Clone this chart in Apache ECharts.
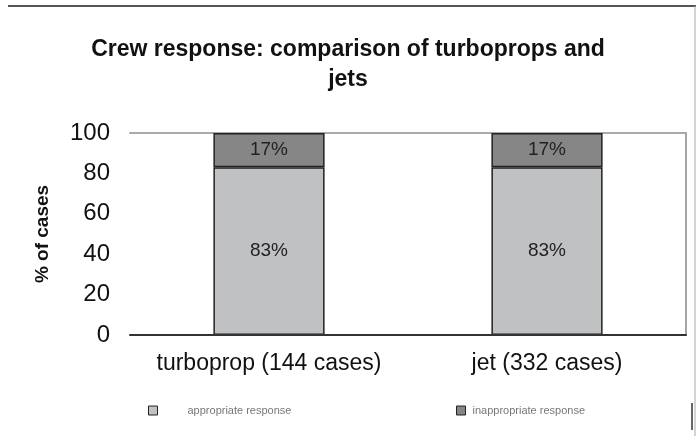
<!DOCTYPE html>
<html>
<head>
<meta charset="utf-8">
<script src="https://cdn.jsdelivr.net/npm/echarts@6/dist/echarts.min.js"></script>
<style>
  html, body { margin: 0; padding: 0; background: #fff; }
  #chart { width: 696px; height: 436px; }
</style>
</head>
<body>
<div id="chart"></div>
<script>
// Aircraft categories and share of cases (%) for each crew response type
var categories = ['turboprop (144 cases)', 'jet (332 cases)'];
var appropriate = [83, 83];
var inappropriate = [17, 17];
var seriesNames = ['appropriate response', 'inappropriate response'];
var yTicks = [0, 20, 40, 60, 80, 100];

var FONT = '"Liberation Sans", Arial, Helvetica, sans-serif';

var chart = echarts.init(document.getElementById('chart'), null, { renderer: 'canvas' });

function pctLabel(p) { return p.value + '%'; }

chart.setOption({
  animation: false,
  backgroundColor: '#ffffff',
  textStyle: { fontFamily: FONT },
  title: {
    text: 'Crew response: comparison of turboprops and\njets',
    left: 'center',
    top: 30,
    textStyle: { fontFamily: FONT, fontSize: 23, fontWeight: 'bold', color: '#111', lineHeight: 30 }
  },
  legend: [
    {
      data: [seriesNames[0]],
      left: 143, top: 400,
      itemWidth: 9, itemHeight: 9,
      icon: 'rect',
      itemStyle: { borderColor: '#222', borderWidth: 1 },
      textStyle: { fontFamily: FONT, fontSize: 11, color: '#777', padding: [0, 0, 0, 25] }
    },
    {
      data: [seriesNames[1]],
      left: 451, top: 400,
      itemWidth: 9, itemHeight: 9,
      icon: 'rect',
      itemStyle: { borderColor: '#222', borderWidth: 1 },
      textStyle: { fontFamily: FONT, fontSize: 11, color: '#777', padding: [0, 0, 0, 2] }
    }
  ],
  grid: { left: 130, right: 10, top: 133, bottom: 101, containLabel: false },
  xAxis: [
    {
      type: 'category',
      data: categories,
      axisLine: { onZero: false, lineStyle: { color: '#333', width: 2 } },
      axisTick: { show: false },
      axisLabel: { interval: 0, fontFamily: FONT, fontSize: 23, color: '#111', margin: 17 },
      z: 5
    },
    {
      type: 'category',
      position: 'top',
      data: categories,
      axisLine: { onZero: false, lineStyle: { color: '#aaa', width: 2 } },
      axisTick: { show: false },
      axisLabel: { show: false }
    }
  ],
  yAxis: [
    {
      type: 'value',
      min: yTicks[0],
      max: yTicks[yTicks.length - 1],
      interval: yTicks[1] - yTicks[0],
      name: '% of cases',
      nameLocation: 'middle',
      nameGap: 78,
      nameTextStyle: { fontFamily: FONT, fontSize: 19, fontWeight: 'bold', color: '#111' },
      axisLine: { show: false },
      axisTick: { show: false },
      splitLine: { show: false },
      axisLabel: { fontFamily: FONT, fontSize: 24, color: '#111', margin: 20 }
    },
    {
      type: 'value',
      position: 'right',
      min: 0, max: 100,
      axisLine: { show: true, onZero: false, lineStyle: { color: '#888', width: 1.5 } },
      axisTick: { show: false },
      axisLabel: { show: false },
      splitLine: { show: false }
    }
  ],
  series: [
    {
      name: seriesNames[0],
      type: 'bar',
      stack: 'total',
      barWidth: '40%',
      data: appropriate,
      itemStyle: { color: '#c0c1c3', borderColor: '#222', borderWidth: 1.5 },
      label: {
        show: true, position: 'inside', formatter: pctLabel,
        fontFamily: FONT, fontSize: 19, color: '#222'
      }
    },
    {
      name: seriesNames[1],
      type: 'bar',
      stack: 'total',
      barWidth: '40%',
      data: inappropriate,
      itemStyle: { color: '#868686', borderColor: '#222', borderWidth: 1.5 },
      label: {
        show: true, position: 'inside', formatter: pctLabel,
        fontFamily: FONT, fontSize: 19, color: '#222'
      }
    }
  ],
  graphic: [
    { type: 'line', shape: { x1: 8, y1: 6, x2: 696, y2: 6 }, style: { stroke: '#555', lineWidth: 2 } },
    { type: 'line', shape: { x1: 695, y1: 6, x2: 695, y2: 436 }, style: { stroke: '#aaa', lineWidth: 1 } },
    { type: 'line', shape: { x1: 692, y1: 403, x2: 692, y2: 430 }, style: { stroke: '#333', lineWidth: 1.5 } }
  ]
});
</script>
</body>
</html>
